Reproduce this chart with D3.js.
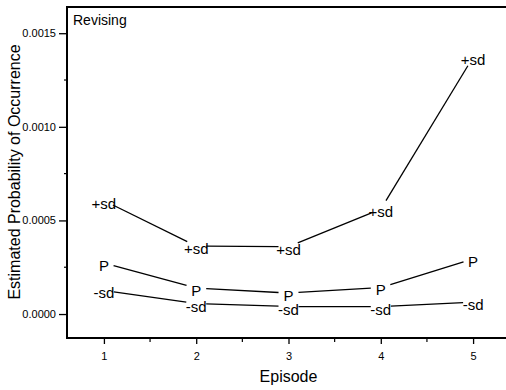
<!DOCTYPE html>
<html lang="en">
<head>
    <meta charset="UTF-8">
    <title>Revising</title>
    <script src="https://d3js.org/d3.v7.min.js"></script>
    <style>
        body {
            margin: 0;
            padding: 0;
            background: #fff;
            overflow: hidden;
        }
        svg text {
            font-family: Arial, "Liberation Sans", sans-serif;
            fill: #000;
        }
    </style>
</head>
<body>
    <svg width="506" height="390"></svg>

    <script>
        // values
        const episodes = [1, 2, 3, 4, 5];
        const plusSd = [0.000606, 0.000363, 0.000360, 0.000560, 0.001372];
        const pEst = [0.000272, 0.000139, 0.000112, 0.000142, 0.000294];
        const minusSd = [0.000126, 0.000056, 0.000040, 0.000040, 0.000064];
        const seriesNames = ["+sd", "P", "-sd"];
        const yTicks = [0, 0.0005, 0.0010, 0.0015];
        const yMinor = [0.00025, 0.00075, 0.00125];
        const xMinor = [1.5, 2.5, 3.5, 4.5];

        const width = 506, height = 390;
        const plotLeft = 67, plotTop = 7, plotBottom = 338;

        const svg = d3.select("svg");

        const x = d3.scaleLinear().domain([0.6, 5.4]).range([plotLeft, 510]);
        const y = d3.scaleLinear().domain([-0.000128, 0.00164]).range([plotBottom, plotTop]);

        // y axis ticks
        const yAxis = svg.append("g")
            .attr("transform", `translate(${plotLeft},0)`)
            .call(d3.axisLeft(y).tickValues(yTicks).tickSize(8).tickPadding(3)
                .tickFormat(d3.format(".4f")));
        yAxis.select(".domain").remove();
        yAxis.selectAll(".tick line").attr("stroke", "#000").attr("stroke-width", 1.3);
        yAxis.selectAll(".tick text").style("font-size", "11px");

        svg.append("g").selectAll("line")
            .data(yMinor)
            .enter()
            .append("line")
            .attr("x1", plotLeft - 3).attr("x2", plotLeft + 1)
            .attr("y1", d => y(d)).attr("y2", d => y(d))
            .attr("stroke", "#000").attr("stroke-width", 1.2);

        // x axis ticks
        const xAxis = svg.append("g")
            .attr("transform", `translate(0,${plotBottom})`)
            .call(d3.axisBottom(x).tickValues(episodes).tickSize(6).tickPadding(8)
                .tickFormat(d3.format("d")));
        xAxis.select(".domain").remove();
        xAxis.selectAll(".tick line").attr("stroke", "#000").attr("stroke-width", 1.3);
        xAxis.selectAll(".tick text").style("font-size", "11px");

        svg.append("g").selectAll("line")
            .data(xMinor)
            .enter()
            .append("line")
            .attr("x1", d => x(d)).attr("x2", d => x(d))
            .attr("y1", plotBottom).attr("y2", plotBottom + 4)
            .attr("stroke", "#000").attr("stroke-width", 1.2);

        // frame: left, top, bottom
        svg.append("path")
            .attr("d", `M${width},${plotTop}H${plotLeft}V${plotBottom}H${width}`)
            .attr("fill", "none")
            .attr("stroke", "#000")
            .attr("stroke-width", 2);

        // series
        const series = [plusSd, pEst, minusSd];
        const gap = 10;

        series.forEach(function(vals, s) {
            const pts = vals.map((v, i) => [x(episodes[i]), y(v)]);
            const g = svg.append("g");

            for (let i = 0; i < pts.length - 1; i++) {
                const [x1, y1] = pts[i];
                const [x2, y2] = pts[i + 1];
                const len = Math.hypot(x2 - x1, y2 - y1);
                const ux = (x2 - x1) / len, uy = (y2 - y1) / len;
                g.append("line")
                    .attr("x1", x1 + ux * gap).attr("y1", y1 + uy * gap)
                    .attr("x2", x2 - ux * gap).attr("y2", y2 - uy * gap)
                    .attr("stroke", "#000")
                    .attr("stroke-width", 1.3);
            }

            g.selectAll("text")
                .data(pts)
                .enter()
                .append("text")
                .attr("x", d => d[0])
                .attr("y", d => d[1] + 8)
                .attr("text-anchor", "middle")
                .style("font-size", "15px")
                .text(seriesNames[s]);
        });

        // titles
        svg.append("text")
            .attr("x", 73)
            .attr("y", 25)
            .style("font-size", "14px")
            .text("Revising");

        svg.append("text")
            .attr("x", x(3))
            .attr("y", 382)
            .attr("text-anchor", "middle")
            .style("font-size", "16px")
            .text("Episode");

        svg.append("text")
            .attr("transform", "translate(20,172) rotate(-90)")
            .attr("text-anchor", "middle")
            .style("font-size", "16px")
            .text("Estimated Probability of Occurrence");
    </script>
</body>
</html>
